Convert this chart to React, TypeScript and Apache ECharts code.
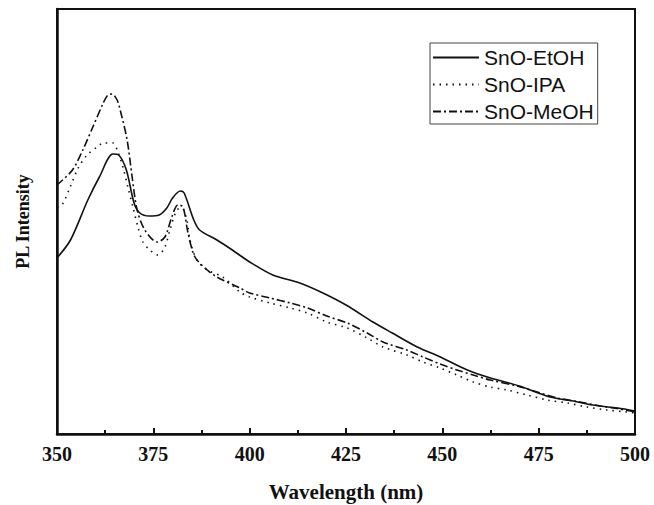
import React, { useEffect, useRef } from "react";
import * as echarts from "echarts";

// Wavelength (nm) and PL intensity (a.u.)
const etohX = [350, 353.5, 358, 361, 364.5, 366, 368, 370, 371.5, 374, 376.5, 378.5, 380, 382, 383, 385.5, 387, 391.5, 395.5, 400, 406, 413, 419, 425, 432, 437, 443.5, 449.5, 456.5, 462.5, 470, 478, 484, 489, 495.5, 500];
const etohY = [176, 194, 234, 257, 280, 279, 264, 231, 221, 218, 219, 226, 236, 243, 241, 214, 204, 194, 184, 172, 159, 151, 141, 129, 112, 101, 87, 77, 64, 56, 48, 37, 33, 29, 26, 23];

const ipaX = [350, 351.3, 353.4, 355.5, 357.8, 360.4, 362, 364.5, 365.8, 367.1, 368.4, 369.7, 371, 372.3, 374.1, 376.2, 378, 379.3, 381.1, 382.4, 383.7, 384.5, 386.3, 389, 393, 397.5, 400, 405.3, 410.5, 415, 420, 425.3, 430.5, 434.6, 440.8, 445, 449.4, 453.8, 458, 462.4, 466.8, 472, 477.2, 482.4, 487.6, 492.7, 497.9, 500];
const ipaY = [227, 229, 247, 266, 279, 287, 291, 291, 282, 267, 247, 227, 207, 192, 184, 179, 187, 204, 224, 226, 214, 194, 174, 164, 157, 142, 137, 131, 126, 121, 112, 106, 96, 87, 79, 72, 66, 59, 52, 47, 44, 39, 34, 31, 27, 24, 22, 21];

const meohX = [350, 354, 356.7, 359.3, 362, 363.2, 364.3, 365.6, 366.4, 368.2, 369.5, 370.8, 372.8, 376, 378, 379.8, 381.4, 382.7, 384, 385.8, 389, 391.5, 397.5, 400, 405.3, 410.5, 415, 420, 425.3, 430.5, 434.6, 440.8, 445, 449.4, 453.8, 458, 462.4, 469.4, 474.6, 479.8, 485.7, 491, 496, 500];
const meohY = [249, 264, 284, 307, 331, 339, 340, 334, 324, 294, 257, 224, 204, 192, 197, 217, 229, 227, 201, 177, 164, 157, 146, 141, 136, 131, 126, 118, 111, 101, 92, 84, 77, 70, 64, 59, 54, 48, 42, 36, 32, 28, 25, 22];

const xTicks = [350, 375, 400, 425, 450, 475, 500];
const seriesNames = ["SnO-EtOH", "SnO-IPA", "SnO-MeOH"];

const zip = (xs: number[], ys: number[]) => xs.map((x, i) => [x, ys[i]]);

export default function App() {
  const ref = useRef<HTMLDivElement>(null);
  useEffect(() => {
    if (!ref.current) return;
    const chart = echarts.init(ref.current, undefined, { renderer: "svg" });
    const ink = "#111";
    const serif = "'Liberation Serif', 'Times New Roman', serif";
    chart.setOption({
      animation: false,
      backgroundColor: "#fff",
      grid: {
        left: 57,
        right: 19,
        top: 9,
        bottom: 71,
        show: true,
        borderColor: ink,
        borderWidth: 2,
        containLabel: false,
        outerBoundsMode: "none",
      },
      legend: {
        orient: "vertical",
        left: 430,
        top: 43,
        data: seriesNames,
        itemWidth: 46,
        itemHeight: 20,
        itemGap: 6,
        padding: [4, 4, 2, 2],
        borderColor: "#444",
        borderWidth: 1,
        itemStyle: { opacity: 0 },
        textStyle: {
          fontFamily: "'Liberation Sans', Arial, sans-serif",
          fontSize: 21,
          color: ink,
          lineHeight: 20,
        },
      },
      xAxis: {
        type: "value",
        min: 350,
        max: 500,
        interval: 25,
        name: "Wavelength (nm)",
        nameLocation: "middle",
        nameGap: 47,
        nameTextStyle: { fontFamily: serif, fontWeight: "bold", fontSize: 21, color: ink },
        axisLine: { show: true, lineStyle: { color: ink, width: 2.5 } },
        axisTick: { show: true, inside: true, length: 6, lineStyle: { color: ink, width: 2 } },
        minorTick: { show: true, splitNumber: 2, length: 4, lineStyle: { color: ink, width: 2 } },
        splitLine: { show: false },
        axisLabel: {
          margin: 10,
          fontFamily: serif,
          fontWeight: "bold",
          fontSize: 20,
          color: ink,
          customValues: xTicks,
        },
      },
      yAxis: {
        type: "value",
        min: 0,
        max: 425,
        name: "PL Intensity",
        nameLocation: "middle",
        nameGap: 25,
        nameTextStyle: { fontFamily: serif, fontWeight: "bold", fontSize: 18, color: ink },
        axisLine: { show: true, lineStyle: { color: ink, width: 2.5 } },
        axisTick: { show: false },
        axisLabel: { show: false },
        splitLine: { show: false },
      },
      series: [
        {
          name: seriesNames[0],
          type: "line",
          data: zip(etohX, etohY),
          symbol: "none",
          smooth: 0.3,
          lineStyle: { color: ink, width: 1.6, type: "solid" },
          itemStyle: { color: ink },
        },
        {
          name: seriesNames[1],
          type: "line",
          data: zip(ipaX, ipaY),
          symbol: "none",
          smooth: 0.3,
          lineStyle: { color: ink, width: 1.6, type: [1.5, 5] },
          itemStyle: { color: ink },
        },
        {
          name: seriesNames[2],
          type: "line",
          data: zip(meohX, meohY),
          symbol: "none",
          smooth: 0.3,
          lineStyle: { color: ink, width: 1.6, type: [8, 3, 2, 3] },
          itemStyle: { color: ink },
        },
      ],
    });
    return () => chart.dispose();
  }, []);
  return (
    <div
      ref={ref}
      style={{ position: "absolute", left: 0, top: 0, width: 654, height: 505 }}
    />
  );
}
